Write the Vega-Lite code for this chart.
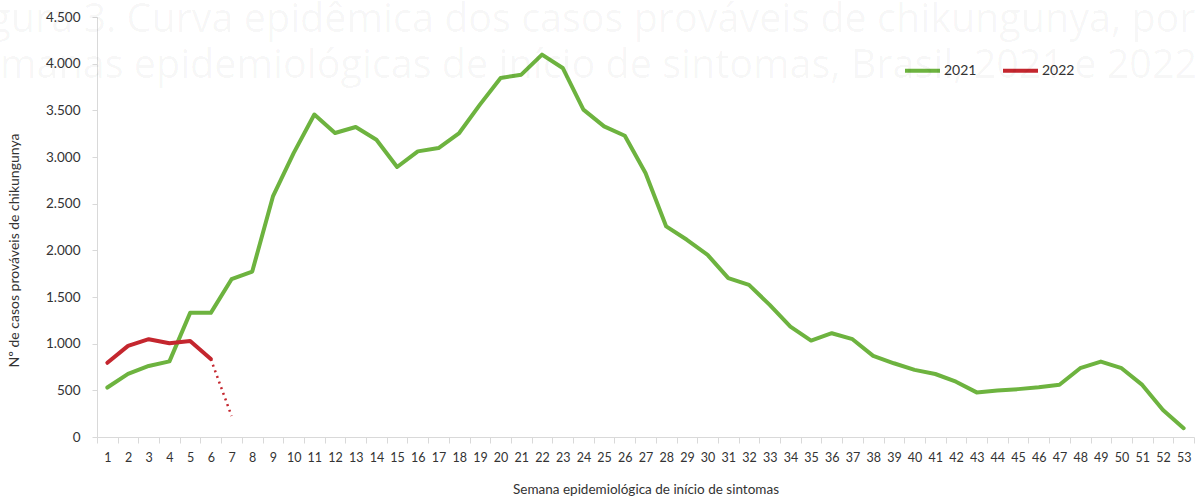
{
  "$schema": "https://vega.github.io/schema/vega-lite/v6.json",
  "width": 1097,
  "height": 420,
  "autosize": {"type": "none"},
  "padding": {"left": 97, "top": 17, "right": 6, "bottom": 62},
  "background": "white",
  "config": {
    "locale": {"number": {"decimal": ",", "thousands": ".", "grouping": [3], "currency": ["R$", ""]}},
    "view": {"stroke": null},
    "font": "Lato"
  },
  "title": {
    "text": ["Figura 3. Curva epidêmica dos casos prováveis de chikungunya, por", "semanas epidemiológicas de início de sintomas, Brasil, 2021 e 2022"],
    "anchor": "start",
    "frame": "group",
    "orient": "top",
    "baseline": "top",
    "font": "Open Sans",
    "fontSize": 39.5,
    "fontWeight": "normal",
    "lineHeight": 46,
    "color": "rgba(0,0,0,0.04)",
    "offset": 0,
    "dx": -138,
    "dy": 76
  },
  "data": {
    "values": [
      {"semana": 1, "ano": "2021", "casos": 530, "trecho": "contínuo"},
      {"semana": 2, "ano": "2021", "casos": 676, "trecho": "contínuo"},
      {"semana": 3, "ano": "2021", "casos": 761, "trecho": "contínuo"},
      {"semana": 4, "ano": "2021", "casos": 810, "trecho": "contínuo"},
      {"semana": 5, "ano": "2021", "casos": 1330, "trecho": "contínuo"},
      {"semana": 6, "ano": "2021", "casos": 1330, "trecho": "contínuo"},
      {"semana": 7, "ano": "2021", "casos": 1691, "trecho": "contínuo"},
      {"semana": 8, "ano": "2021", "casos": 1773, "trecho": "contínuo"},
      {"semana": 9, "ano": "2021", "casos": 2577, "trecho": "contínuo"},
      {"semana": 10, "ano": "2021", "casos": 3042, "trecho": "contínuo"},
      {"semana": 11, "ano": "2021", "casos": 3455, "trecho": "contínuo"},
      {"semana": 12, "ano": "2021", "casos": 3257, "trecho": "contínuo"},
      {"semana": 13, "ano": "2021", "casos": 3321, "trecho": "contínuo"},
      {"semana": 14, "ano": "2021", "casos": 3185, "trecho": "contínuo"},
      {"semana": 15, "ano": "2021", "casos": 2893, "trecho": "contínuo"},
      {"semana": 16, "ano": "2021", "casos": 3060, "trecho": "contínuo"},
      {"semana": 17, "ano": "2021", "casos": 3096, "trecho": "contínuo"},
      {"semana": 18, "ano": "2021", "casos": 3257, "trecho": "contínuo"},
      {"semana": 19, "ano": "2021", "casos": 3561, "trecho": "contínuo"},
      {"semana": 20, "ano": "2021", "casos": 3847, "trecho": "contínuo"},
      {"semana": 21, "ano": "2021", "casos": 3882, "trecho": "contínuo"},
      {"semana": 22, "ano": "2021", "casos": 4097, "trecho": "contínuo"},
      {"semana": 23, "ano": "2021", "casos": 3954, "trecho": "contínuo"},
      {"semana": 24, "ano": "2021", "casos": 3507, "trecho": "contínuo"},
      {"semana": 25, "ano": "2021", "casos": 3328, "trecho": "contínuo"},
      {"semana": 26, "ano": "2021", "casos": 3228, "trecho": "contínuo"},
      {"semana": 27, "ano": "2021", "casos": 2828, "trecho": "contínuo"},
      {"semana": 28, "ano": "2021", "casos": 2256, "trecho": "contínuo"},
      {"semana": 29, "ano": "2021", "casos": 2113, "trecho": "contínuo"},
      {"semana": 30, "ano": "2021", "casos": 1952, "trecho": "contínuo"},
      {"semana": 31, "ano": "2021", "casos": 1702, "trecho": "contínuo"},
      {"semana": 32, "ano": "2021", "casos": 1630, "trecho": "contínuo"},
      {"semana": 33, "ano": "2021", "casos": 1416, "trecho": "contínuo"},
      {"semana": 34, "ano": "2021", "casos": 1183, "trecho": "contínuo"},
      {"semana": 35, "ano": "2021", "casos": 1033, "trecho": "contínuo"},
      {"semana": 36, "ano": "2021", "casos": 1112, "trecho": "contínuo"},
      {"semana": 37, "ano": "2021", "casos": 1048, "trecho": "contínuo"},
      {"semana": 38, "ano": "2021", "casos": 869, "trecho": "contínuo"},
      {"semana": 39, "ano": "2021", "casos": 790, "trecho": "contínuo"},
      {"semana": 40, "ano": "2021", "casos": 719, "trecho": "contínuo"},
      {"semana": 41, "ano": "2021", "casos": 675, "trecho": "contínuo"},
      {"semana": 42, "ano": "2021", "casos": 593, "trecho": "contínuo"},
      {"semana": 43, "ano": "2021", "casos": 478, "trecho": "contínuo"},
      {"semana": 44, "ano": "2021", "casos": 497, "trecho": "contínuo"},
      {"semana": 45, "ano": "2021", "casos": 513, "trecho": "contínuo"},
      {"semana": 46, "ano": "2021", "casos": 533, "trecho": "contínuo"},
      {"semana": 47, "ano": "2021", "casos": 560, "trecho": "contínuo"},
      {"semana": 48, "ano": "2021", "casos": 737, "trecho": "contínuo"},
      {"semana": 49, "ano": "2021", "casos": 808, "trecho": "contínuo"},
      {"semana": 50, "ano": "2021", "casos": 737, "trecho": "contínuo"},
      {"semana": 51, "ano": "2021", "casos": 558, "trecho": "contínuo"},
      {"semana": 52, "ano": "2021", "casos": 290, "trecho": "contínuo"},
      {"semana": 53, "ano": "2021", "casos": 95, "trecho": "contínuo"},
      {"semana": 1, "ano": "2022", "casos": 795, "trecho": "contínuo"},
      {"semana": 2, "ano": "2022", "casos": 976, "trecho": "contínuo"},
      {"semana": 3, "ano": "2022", "casos": 1048, "trecho": "contínuo"},
      {"semana": 4, "ano": "2022", "casos": 1005, "trecho": "contínuo"},
      {"semana": 5, "ano": "2022", "casos": 1028, "trecho": "contínuo"},
      {"semana": 6, "ano": "2022", "casos": 835, "trecho": "contínuo"},
      {"semana": 6, "ano": "2022", "casos": 835, "trecho": "pontilhado"},
      {"semana": 7, "ano": "2022", "casos": 225, "trecho": "pontilhado"}
    ]
  },
  "layer": [
    {
      "transform": [{"filter": "datum.trecho == 'contínuo'"}],
      "mark": {"type": "line", "strokeWidth": 4, "strokeJoin": "round", "strokeCap": "round"},
      "encoding": {
        "x": {
          "field": "semana", "type": "ordinal", "bandPosition": 0.5,
          "scale": {"type": "band", "paddingInner": 0, "paddingOuter": 0},
          "axis": {
            "title": "Semana epidemiológica de início de sintomas",
            "labelAngle": 0, "tickBand": "extent",
            "domainColor": "#d9d9d9", "tickColor": "#d9d9d9", "tickSize": 6,
            "labelFontSize": 12.5, "labelColor": "#333333", "labelPadding": 8,
            "titleFontSize": 13.5, "titleFontWeight": "normal", "titleColor": "#333333", "titlePadding": 19
          }
        },
        "y": {
          "field": "casos", "type": "quantitative",
          "scale": {"domain": [0, 4500], "nice": false},
          "axis": {
            "title": "Nº de casos prováveis de chikungunya",
            "values": [0, 500, 1000, 1500, 2000, 2500, 3000, 3500, 4000, 4500],
            "format": ",d", "grid": false,
            "domainColor": "#d9d9d9", "tickColor": "#d9d9d9", "tickSize": 5,
            "labelFontSize": 13.5, "labelColor": "#333333", "labelPadding": 12,
            "titleFontSize": 14, "titleFontWeight": "normal", "titleColor": "#333333", "titlePadding": 24,
            "titleY": 233
          }
        },
        "color": {
          "field": "ano", "type": "nominal",
          "scale": {"domain": ["2021", "2022"], "range": ["#6db33f", "#c4262e"]},
          "legend": {
            "title": null, "orient": "none", "direction": "horizontal",
            "legendX": 806, "legendY": 34,
            "symbolType": "stroke", "symbolSize": 1225, "symbolStrokeWidth": 4,
            "labelFontSize": 14, "labelColor": "#333333", "labelOffset": 2,
            "columnPadding": 18
          }
        }
      }
    },
    {
      "transform": [{"filter": "datum.trecho == 'pontilhado'"}],
      "mark": {"type": "line", "strokeWidth": 2.5, "strokeDash": [2, 4], "color": "#c4262e"},
      "encoding": {
        "x": {"field": "semana", "type": "ordinal", "bandPosition": 0.5},
        "y": {"field": "casos", "type": "quantitative"}
      }
    }
  ]
}
